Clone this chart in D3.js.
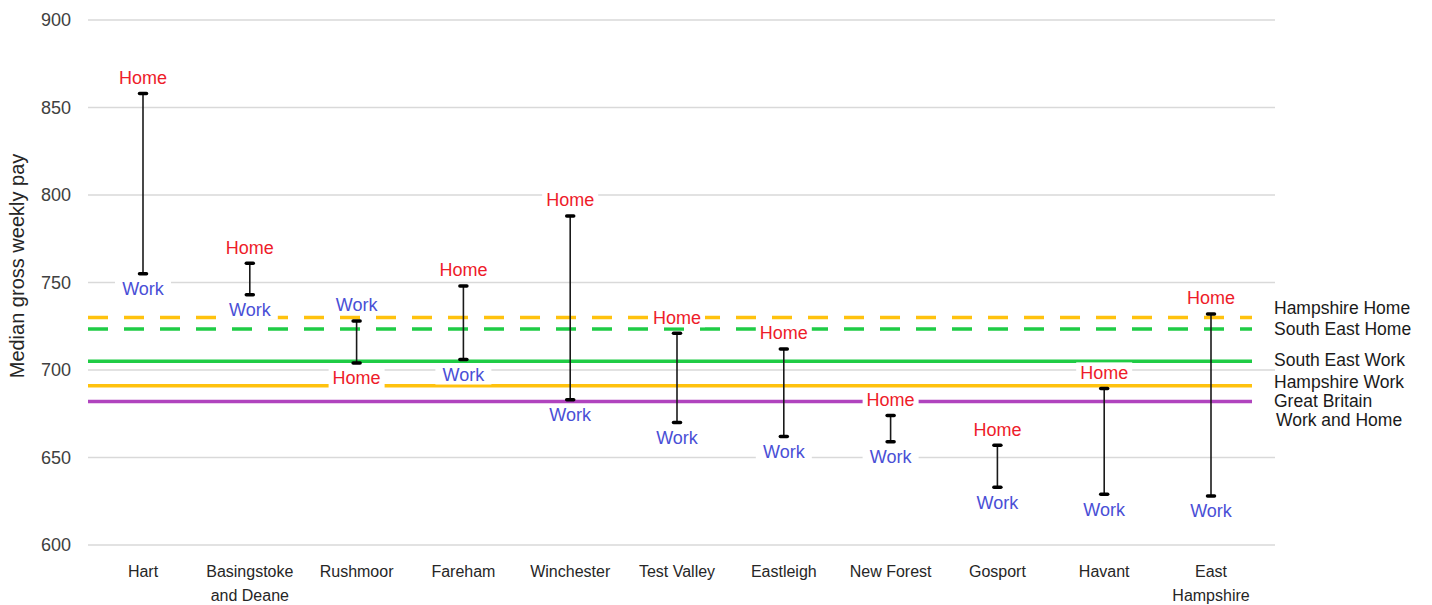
<!DOCTYPE html>
<html>
<head>
<meta charset="utf-8">
<script src="https://cdn.jsdelivr.net/npm/d3@7"></script>
<style>
  body { margin: 0; background: #fff; }
  svg { display: block; font-family: 'Liberation Sans', Arial, sans-serif; }
</style>
</head>
<body>
<div id="chart"></div>
<script>
// districts, left to right
const categories = ['Hart', 'Basingstoke\nand Deane', 'Rushmoor', 'Fareham', 'Winchester',
  'Test Valley', 'Eastleigh', 'New Forest', 'Gosport', 'Havant', 'East\nHampshire']

// median gross weekly pay, by place of residence / place of work
const homePay = [858, 761, 704, 748, 788, 721, 712, 674, 657, 689.5, 732]
const workPay = [755, 743, 728, 706, 683, 670, 662, 659, 633, 629, 628]

// comparison lines
const refNames = ['Hampshire Home', 'South East Home', 'South East Work', 'Hampshire Work', 'Great Britain\nWork and Home']
const refValues = [730, 723.5, 705, 691, 682]

const yTicks = [600, 650, 700, 750, 800, 850, 900]

const width = 1432
const height = 605

const refStyle = {
  'Hampshire Home': { color: '#FFC20E', dash: '20,16' },
  'South East Home': { color: '#1FCC45', dash: '20,16' },
  'South East Work': { color: '#1FCC45', dash: null },
  'Hampshire Work': { color: '#FFC20E', dash: null },
  'Great Britain\nWork and Home': { color: '#B044BE', dash: null }
}
const legendY = {
  'Hampshire Home': [308],
  'South East Home': [329],
  'South East Work': [360],
  'Hampshire Work': [382],
  'Great Britain\nWork and Home': [401, 420]
}

const svg = d3.select('#chart').append('svg').attr('width', width).attr('height', height)

const x = d3.scaleBand().domain(categories).range([89.6, 1264.4])
const y = d3.scaleLinear().domain([600, 900]).range([545, 20])

// gridlines
svg.append('g').selectAll('line')
  .data(yTicks)
  .enter()
  .append('line')
  .attr('x1', 88).attr('x2', 1275)
  .attr('y1', d => y(d)).attr('y2', d => y(d))
  .attr('stroke', '#d9d9d9').attr('stroke-width', 1.3)

// y tick labels
svg.append('g').selectAll('text')
  .data(yTicks)
  .enter()
  .append('text')
  .attr('x', 71)
  .attr('y', d => y(d))
  .attr('dy', '0.35em')
  .attr('text-anchor', 'end')
  .attr('font-size', 18)
  .attr('fill', '#404040')
  .text(d => d)

// axis title
svg.append('text')
  .attr('transform', 'translate(24,' + 266 + ') rotate(-90)')
  .attr('text-anchor', 'middle')
  .attr('font-size', 20)
  .attr('fill', '#262626')
  .text('Median gross weekly pay')

// category labels
const catG = svg.append('g').selectAll('text')
  .data(categories)
  .enter()
  .append('text')
  .attr('text-anchor', 'middle')
  .attr('font-size', 16)
  .attr('fill', '#262626')
  .attr('transform', d => 'translate(' + (x(d) + x.bandwidth() / 2) + ',577)')
catG.selectAll('tspan')
  .data(d => d.split('\n'))
  .enter()
  .append('tspan')
  .attr('x', 0)
  .attr('y', (d, i) => i * 24)
  .text(d => d)

// comparison lines
svg.append('g').selectAll('line')
  .data(refNames)
  .enter()
  .append('line')
  .attr('x1', 88).attr('x2', 1252)
  .attr('y1', (d, i) => y(refValues[i])).attr('y2', (d, i) => y(refValues[i]))
  .attr('stroke', d => refStyle[d].color)
  .attr('stroke-width', 3.5)
  .attr('stroke-dasharray', d => refStyle[d].dash)

// comparison line names
const refText = svg.append('g').selectAll('text')
  .data(refNames)
  .enter()
  .append('text')
  .attr('font-size', 17.5)
  .attr('fill', '#1a1a1a')
refText.selectAll('tspan')
  .data(d => d.split('\n').map((t, i) => ({ t: t, y: legendY[d][i] })))
  .enter()
  .append('tspan')
  .attr('x', (d, i) => 1274 + i * 2)
  .attr('y', d => d.y)
  .attr('dy', '0.35em')
  .text(d => d.t)

// range bars
const pairs = categories.map((c, i) => ({ cat: c, home: homePay[i], work: workPay[i] }))
const cx = d => x(d.cat) + x.bandwidth() / 2

const bars = svg.append('g').selectAll('g')
  .data(pairs)
  .enter()
  .append('g')

bars.append('line')
  .attr('x1', cx).attr('x2', cx)
  .attr('y1', d => y(d.home)).attr('y2', d => y(d.work))
  .attr('stroke', '#1a1a1a').attr('stroke-width', 1.6)

bars.selectAll('.cap')
  .data(d => [d.home, d.work].map(v => ({ x: cx(d), v: v })))
  .enter()
  .append('line')
  .attr('class', 'cap')
  .attr('x1', d => d.x - 3.5).attr('x2', d => d.x + 3.5)
  .attr('y1', d => y(d.v)).attr('y2', d => y(d.v))
  .attr('stroke', '#000').attr('stroke-width', 3.5)
  .attr('stroke-linecap', 'round')

// Home / Work labels, higher value above, lower below
const labels = []
pairs.forEach(d => {
  const homeUp = d.home >= d.work
  labels.push({ x: cx(d), v: d.home, text: 'Home', color: '#EE1C2A', up: homeUp })
  labels.push({ x: cx(d), v: d.work, text: 'Work', color: '#4A4FD6', up: !homeUp })
})

const lab = svg.append('g').selectAll('g')
  .data(labels)
  .enter()
  .append('g')
  .attr('transform', d => 'translate(' + d.x + ',' + (y(d.v) + (d.up ? -16 : 15)) + ')')

lab.append('rect')
  .attr('x', -28).attr('y', -10)
  .attr('width', 56).attr('height', 20)
  .attr('fill', '#fff')

lab.append('text')
  .attr('text-anchor', 'middle')
  .attr('dy', '0.36em')
  .attr('font-size', 18)
  .attr('fill', d => d.color)
  .text(d => d.text)
</script>
</body>
</html>
